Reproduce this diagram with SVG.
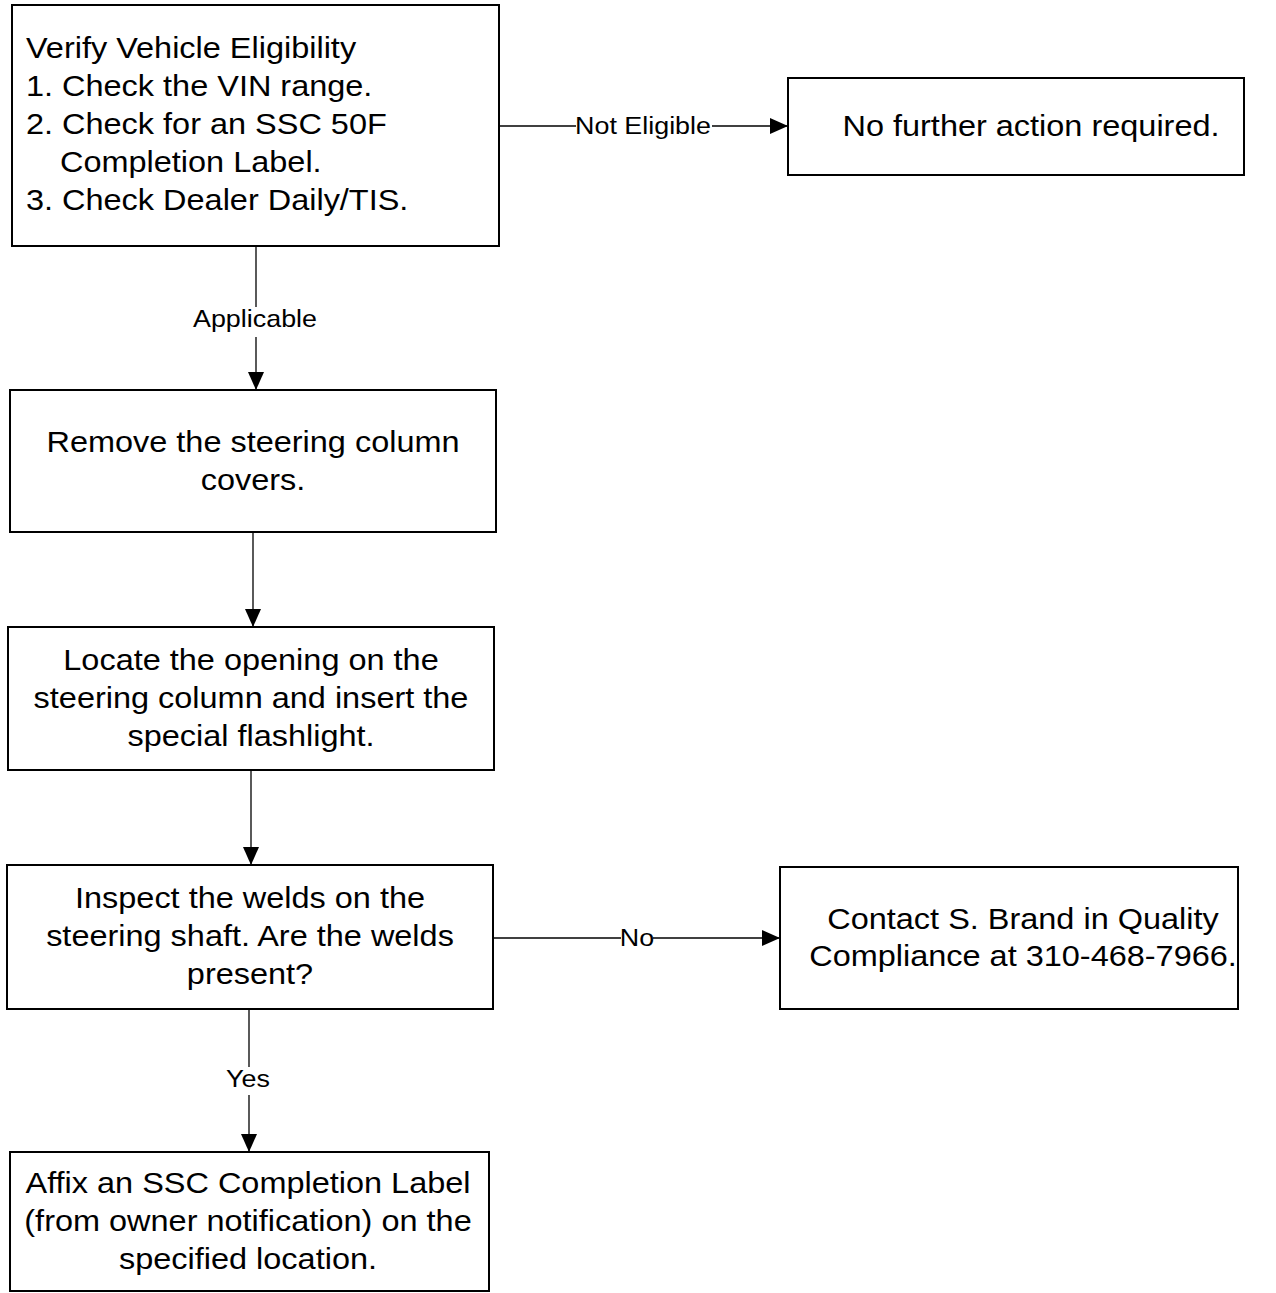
<svg xmlns="http://www.w3.org/2000/svg" width="1276" height="1293" viewBox="0 0 1276 1293">
<style>
.box{fill:#fff;stroke:#000;stroke-width:2}
.t{font-family:"Liberation Sans",Arial,sans-serif;font-size:29px;fill:#000}
.c{text-anchor:middle}
.lbl{font-family:"Liberation Sans",Arial,sans-serif;font-size:24px;fill:#000;text-anchor:middle}
.edge{stroke:#000;stroke-width:1.3;fill:none}
.bg{fill:#fff}
</style>
<defs>
<marker id="av" viewBox="0 0 18 20" markerWidth="18" markerHeight="20" refX="18" refY="10" orient="auto" markerUnits="userSpaceOnUse">
<path d="M0,2 L18,10 L0,18 Z" fill="#000"/>
</marker>
</defs>
<rect width="1276" height="1293" fill="#fff"/>
<g id="connectors">
<line class="edge" x1="499" y1="126" x2="788" y2="126" marker-end="url(#av)"/>
<rect class="bg" x="576" y="112" width="136" height="26"/>
<text class="lbl" transform="translate(643,134) scale(1.12,1)">Not Eligible</text>
<line class="edge" x1="256" y1="246" x2="256" y2="390" marker-end="url(#av)"/>
<rect class="bg" x="190" y="307" width="130" height="30"/>
<text class="lbl" transform="translate(255,327) scale(1.12,1)">Applicable</text>
<line class="edge" x1="253" y1="532" x2="253" y2="627" marker-end="url(#av)"/>
<line class="edge" x1="251" y1="770" x2="251" y2="865" marker-end="url(#av)"/>
<line class="edge" x1="493" y1="938" x2="780" y2="938" marker-end="url(#av)"/>
<rect class="bg" x="621" y="925" width="32" height="26"/>
<text class="lbl" transform="translate(637,946) scale(1.12,1)">No</text>
<line class="edge" x1="249" y1="1009" x2="249" y2="1152" marker-end="url(#av)"/>
<rect class="bg" x="222" y="1067" width="52" height="28"/>
<text class="lbl" transform="translate(248,1087) scale(1.12,1)">Yes</text>
</g>
<g id="n1">
<rect class="box" x="12" y="5" width="487" height="241"/>
<text class="t" transform="translate(26,58) scale(1.12,1)">Verify Vehicle Eligibility</text>
<text class="t" transform="translate(26,96) scale(1.12,1)">1. Check the VIN range.</text>
<text class="t" transform="translate(26,134) scale(1.12,1)">2. Check for an SSC 50F</text>
<text class="t" transform="translate(60,172) scale(1.12,1)">Completion Label.</text>
<text class="t" transform="translate(26,210) scale(1.12,1)">3. Check Dealer Daily/TIS.</text>
</g>
<g id="n2">
<rect class="box" x="788" y="78" width="456" height="97"/>
<text class="t c" transform="translate(1031,136) scale(1.12,1)">No further action required.</text>
</g>
<g id="n3">
<rect class="box" x="10" y="390" width="486" height="142"/>
<text class="t c" transform="translate(253,452) scale(1.12,1)">Remove the steering column</text>
<text class="t c" transform="translate(253,490) scale(1.12,1)">covers.</text>
</g>
<g id="n4">
<rect class="box" x="8" y="627" width="486" height="143"/>
<text class="t c" transform="translate(251,670) scale(1.12,1)">Locate the opening on the</text>
<text class="t c" transform="translate(251,708) scale(1.12,1)">steering column and insert the</text>
<text class="t c" transform="translate(251,746) scale(1.12,1)">special flashlight.</text>
</g>
<g id="n5">
<rect class="box" x="7" y="865" width="486" height="144"/>
<text class="t c" transform="translate(250,908) scale(1.12,1)">Inspect the welds on the</text>
<text class="t c" transform="translate(250,946) scale(1.12,1)">steering shaft. Are the welds</text>
<text class="t c" transform="translate(250,984) scale(1.12,1)">present?</text>
</g>
<g id="n6">
<rect class="box" x="780" y="867" width="458" height="142"/>
<text class="t c" transform="translate(1023,929) scale(1.12,1)">Contact S. Brand in Quality</text>
<text class="t c" transform="translate(1023,966) scale(1.12,1)">Compliance at 310-468-7966.</text>
</g>
<g id="n7">
<rect class="box" x="10" y="1152" width="479" height="139"/>
<text class="t c" transform="translate(248,1193) scale(1.12,1)">Affix an SSC Completion Label</text>
<text class="t c" transform="translate(248,1231) scale(1.12,1)">(from owner notification) on the</text>
<text class="t c" transform="translate(248,1269) scale(1.12,1)">specified location.</text>
</g>
</svg>
